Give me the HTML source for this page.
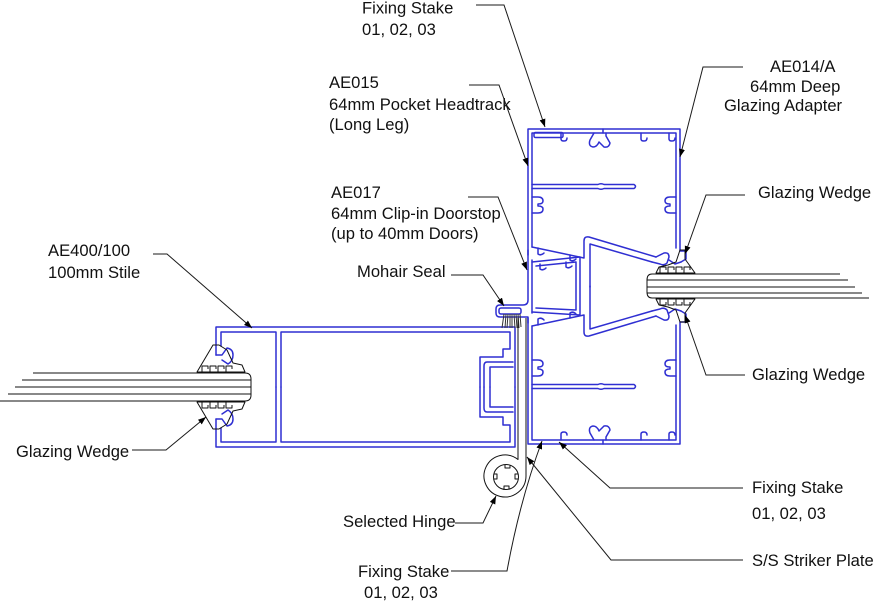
<!DOCTYPE html>
<html>
<head>
<meta charset="utf-8">
<style>
  html, body { margin: 0; padding: 0; background: #ffffff; }
  svg { display: block; }
  text { font-family: "Liberation Sans", Arial, sans-serif; font-size: 16.6px; fill: #111; }
</style>
</head>
<body>
<svg width="874" height="601" viewBox="0 0 874 601" xmlns="http://www.w3.org/2000/svg">
  <defs>
    <marker id="ar" markerWidth="8" markerHeight="6" refX="8" refY="3" orient="auto" markerUnits="userSpaceOnUse">
      <path d="M0,0 L8,3 L0,6 Z" fill="#000"/>
    </marker>
  </defs>
  <rect width="874" height="601" fill="#fff"/>

  <!-- ================= BLUE PROFILES ================= -->
  <g fill="none" stroke="#2f2fd2" stroke-width="1.5" stroke-linejoin="round" stroke-linecap="round">
    <!-- Frame upper half (mirrored below) -->
    <g id="fh">
      <path d="M528,255 V129 H680 V251 H686 V259 L681,262"/>
      <path d="M532,247 V133 H676 V248"/>
      <path d="M532,247 L584,258 V241 Q584,236 589,237 L656,257"/>
      <path d="M590,287 V244 L652,262"/>
      <path d="M656,257 L664,253 Q669,252 669,257 L667,263 Q664,266 660,264 L652,262"/>
      <path d="M681,262 L675,264 L669,260"/>
      <!-- top hooks -->
      <path d="M561,133 V139 Q561,141 564,141 Q567,141 567,138"/>
      <path d="M641,133 V139 Q641,141 644,141 Q647,141 647,138"/>
      <path d="M669,133 V139 Q669,141 672,141 Q675,141 675,138"/>
      <!-- centre lug -->
      <path d="M594,133 L590,140 Q588,146 593,147 Q597,147 599,142 L604,147 Q609,148 610,143 L606,136 V133"/>
      <path d="M603,129 V133"/>
      <!-- web -->
      <path d="M532,184.5 H598 Q601,183 604,184.5 H634 Q637,186.5 634,188.5 H604 Q601,190 598,188.5 H532"/>
      <!-- side clips -->
      <path d="M532,197 H538 Q543,197 543,201 Q543,204 538,204 V206 Q543,206 543,209 Q543,213 538,213 H532"/>
      <path d="M676,197 H670 Q665,197 665,201 Q665,204 670,204 V206 Q665,206 665,209 Q665,213 670,213 H676"/>
      <!-- small lugs under chamber -->
      <path d="M538,248 V254 Q541,256 544,253"/>
      <path d="M570,255 V260 Q573,262 576,259"/>
    </g>
    <use href="#fh" transform="matrix(1,0,0,-1,0,573)"/>

    <!-- fixing stake slot top -->
    <rect x="534" y="132.5" width="29" height="5" rx="1.5"/>

    <!-- doorstop + mohair holder -->
    <path d="M528,250 V300 Q528,305 523,305 H500 Q496,305 496,309 V313 Q496,317 500,317 H528 V323"/>
    <path d="M532,260 V313"/>
    <path d="M532,262 L580,257 V315 L532,312"/>
    <path d="M536,266 L576,262 V310 L536,308"/>
    <path d="M540,264 V269 Q543,271 546,268"/>
    <path d="M566,262 V267 Q569,269 572,266"/>
    <rect x="499" y="308" width="22" height="6" rx="2"/>

    <!-- Stile upper half (mirrored below) -->
    <g id="sh">
      <path d="M216,355 V327 H515 V387"/>
      <path d="M216,355 H222 L227,348 Q233,349 233,355 Q233,361 228,364 L222,360"/>
      <path d="M221,346 V332 H276 V387"/>
      <path d="M281,387 V332 H510 V349 H503 V357 H480 V387"/>
      <path d="M513,362 H487 Q484,362 484,366 V387"/>
      <path d="M513,367 H490 V387"/>
    </g>
    <use href="#sh" transform="matrix(1,0,0,-1,0,774)"/>
  </g>

  <!-- ================= BLACK PARTS ================= -->
  <g fill="none" stroke="#111" stroke-width="1" stroke-linejoin="round">
    <!-- left glass -->
    <path d="M33,373 H245 Q251,373 251,379 V395 Q251,401 245,401 H0"/>
    <path d="M22,380 H251"/>
    <path d="M15,387 H251"/>
    <path d="M8,394 H251"/>

    <!-- left wedges -->
    <g id="lw">
      <path d="M213,345 L197,372 H245 L242,365 L233,363 L227,350 L219,345 Z"/>
      <path d="M202,372 V366 H208 V369 M210,372 V366 H216 V369 M218,372 V366 H224 V369 M226,372 V366 H232 V369"/>
    </g>
    <use href="#lw" transform="matrix(1,0,0,-1,0,774)"/>

    <!-- right glass -->
    <path d="M840,274 H652 Q647,274 647,280 V292 Q647,298 652,298 H869"/>
    <path d="M848,280 H647"/>
    <path d="M855,287 H647"/>
    <path d="M862,293 H647"/>

    <!-- right wedges -->
    <g id="rw">
      <path d="M680,250 H685 V259 L695,273 H656 L659,267 L668,265 L676,262 Z"/>
      <path d="M660,273 V267 H666 V270 M668,273 V267 H674 V270 M676,273 V267 H682 V270 M684,273 V267 H690 V270"/>
    </g>
    <use href="#rw" transform="matrix(1,0,0,-1,0,572)"/>

    <!-- mohair bristles -->
    <g stroke="#333">
      <path d="M504,314 L502,328 M506,314 L505,328 M508,314 L507,328 M510,314 L510,328 M512,314 L512,328 M514,314 L515,328 M516,314 L517,328 M518,314 L519,328 M520,314 L521,327"/>
    </g>

    <!-- hinge -->
    <path d="M518,318 V459.5 A21,21 0 1 0 526,476 V318"/>
    <circle cx="506" cy="477" r="12.5"/>
    <path d="M494,474 h3 v5 h-3 M505,465 v3 h5 v-3 M518,474 h-3 v5 h3 M504,489 v-3 h5 v3"/>
  </g>

  <!-- ================= LEADERS ================= -->
  <g fill="none" stroke="#1a1a1a" stroke-width="1">
    <polyline points="476,5 504,5 545,127" marker-end="url(#ar)"/>
    <polyline points="469,85 499,85 528,166" marker-end="url(#ar)"/>
    <polyline points="743,67 703,67 680,157" marker-end="url(#ar)"/>
    <polyline points="468,197 498,197 527,270" marker-end="url(#ar)"/>
    <polyline points="451,275 483,275 504,306" marker-end="url(#ar)"/>
    <polyline points="153,254 167,254 252,328" marker-end="url(#ar)"/>
    <polyline points="132,450 166,450 206,417" marker-end="url(#ar)"/>
    <polyline points="745,195 706,195 685,254" marker-end="url(#ar)"/>
    <polyline points="745,375 706,375 685,315" marker-end="url(#ar)"/>
    <polyline points="743,488 610,488 559,442" marker-end="url(#ar)"/>
    <polyline points="743,560 611,560 527,457" marker-end="url(#ar)"/>
    <polyline points="455,523 483,523 496,496" marker-end="url(#ar)"/>
    <path d="M451,571 H507 Q520,500 542,441" marker-end="url(#ar)"/>
  </g>

  <!-- ================= LABELS ================= -->
  <text x="362" y="13.5">Fixing Stake</text>
  <text x="362" y="35">01, 02, 03</text>

  <text x="329" y="88">AE015</text>
  <text x="329" y="110">64mm Pocket Headtrack</text>
  <text x="329" y="130">(Long Leg)</text>

  <text x="770" y="72">AE014/A</text>
  <text x="750" y="92">64mm Deep</text>
  <text x="724" y="111">Glazing Adapter</text>

  <text x="331" y="198">AE017</text>
  <text x="331" y="219">64mm Clip-in Doorstop</text>
  <text x="331" y="239">(up to 40mm Doors)</text>

  <text x="357" y="277">Mohair Seal</text>

  <text x="48" y="256">AE400/100</text>
  <text x="48" y="278">100mm Stile</text>

  <text x="758" y="198">Glazing Wedge</text>
  <text x="752" y="380">Glazing Wedge</text>
  <text x="16" y="457">Glazing Wedge</text>

  <text x="752" y="493">Fixing Stake</text>
  <text x="752" y="519">01, 02, 03</text>
  <text x="752" y="566">S/S Striker Plate</text>

  <text x="343" y="527">Selected Hinge</text>
  <text x="358" y="577">Fixing Stake</text>
  <text x="364" y="598">01, 02, 03</text>
</svg>
</body>
</html>
